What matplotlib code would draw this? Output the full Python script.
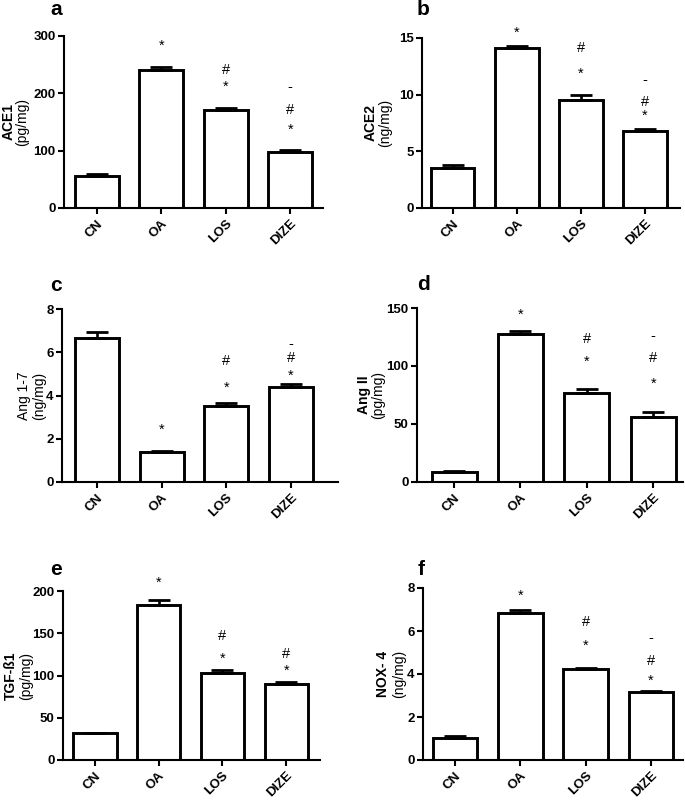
import matplotlib
matplotlib.use("Agg")
import matplotlib.pyplot as plt
import numpy as np

plt.rcParams['font.family'] = ['Liberation Sans', 'DejaVu Sans']

categories = ["CN", "OA", "LOS", "DIZE"]

# panel data: means and upper SEM
ace1_mean = [56, 241, 171, 97]
ace1_sem = [4, 5, 3, 4]
ace2_mean = [3.57, 14.15, 9.5, 6.77]
ace2_sem = [0.22, 0.15, 0.5, 0.2]
ang17_mean = [6.65, 1.38, 3.51, 4.38]
ang17_sem = [0.28, 0.04, 0.16, 0.15]
ang2_mean = [8.6, 127.9, 77, 56]
ang2_sem = [0.5, 2.5, 3.3, 4.3]
tgf_mean = [31.5, 184, 103.2, 89.4]
tgf_sem = [1.0, 5.0, 3.0, 2.5]
nox_mean = [1.04, 6.84, 4.23, 3.14]
nox_sem = [0.09, 0.12, 0.07, 0.08]

# significance marks: (category index, symbol, y position in data units)
ace1_marks = [(1, "*", 283), (2, "#", 241), (2, "*", 211), (3, "-", 211), (3, "#", 171), (3, "*", 136)]
ace2_marks = [(1, "*", 15.5), (2, "#", 14.15), (2, "*", 11.8), (3, "-", 11.3), (3, "#", 9.37), (3, "*", 8.1)]
ang17_marks = [(1, "*", 2.4), (2, "#", 5.6), (2, "*", 4.35), (3, "-", 6.4), (3, "#", 5.75), (3, "*", 4.9)]
ang2_marks = [(1, "*", 144), (2, "#", 123.6), (2, "*", 103.4), (3, "-", 126), (3, "#", 107), (3, "*", 84.8)]
tgf_marks = [(1, "*", 209.5), (2, "#", 146.5), (2, "*", 119.3), (3, "#", 126), (3, "*", 105.5)]
nox_marks = [(1, "*", 7.62), (2, "#", 6.42), (2, "*", 5.3), (3, "-", 5.68), (3, "#", 4.61), (3, "*", 3.67)]

W, H = 685, 801
fig = plt.figure(figsize=(W / 100, H / 100), dpi=100)

panels = [
    # letter, mean, sem, marks, ymax, yticks, axes px (l,t,r,b), xlim, label lines, label x px, bold first, letter pos
    ("a", ace1_mean, ace1_sem, ace1_marks, 300, [0, 100, 200, 300], (64, 36, 323, 208), (-0.51, 3.51),
     ("ACE1", "(pg/mg)"), (9, 22), True, (50, 15)),
    ("b", ace2_mean, ace2_sem, ace2_marks, 15, [0, 5, 10, 15], (422, 38, 680, 208), (-0.48, 3.55),
     ("ACE2", "(ng/mg)"), (371, 385), True, (417, 15)),
    ("c", ang17_mean, ang17_sem, ang17_marks, 8, [0, 2, 4, 6, 8], (62, 309, 338, 482), (-0.54, 3.73),
     ("Ang 1-7", "(ng/mg)"), (24, 39), False, (50, 291)),
    ("d", ang2_mean, ang2_sem, ang2_marks, 150, [0, 50, 100, 150], (417, 308, 683, 482), (-0.56, 3.45),
     ("Ang II", "(pg/mg)"), (364, 378), True, (417, 290)),
    ("e", tgf_mean, tgf_sem, tgf_marks, 200, [0, 50, 100, 150, 200], (63, 591, 320, 760), (-0.5, 3.53),
     ("TGF-ß1", "(pg/mg)"), (11, 26), True, (50, 575)),
    ("f", nox_mean, nox_sem, nox_marks, 8, [0, 2, 4, 6, 8], (423, 588, 683, 760), (-0.49, 3.49),
     ("NOX- 4", "(ng/mg)"), (383, 399), True, (418, 575)),
]

for (letter, mean, sem, marks, ymax, yticks, box, xlim, lab, labx, bold1, letpos) in panels:
    l, t, r, b = box
    ax = fig.add_axes([l / W, 1 - b / H, (r - l) / W, (b - t) / H])
    x = np.arange(len(categories))
    ax.bar(x, mean, width=0.68, color="white", edgecolor="black", linewidth=2.1, zorder=2)
    ax.errorbar(x, mean, yerr=[np.zeros(len(mean)), sem], fmt="none", ecolor="black",
                elinewidth=1.9, capsize=8, capthick=2.0, zorder=3)
    ax.set_xlim(*xlim)
    ax.set_ylim(0, ymax)
    ax.set_yticks(yticks)
    ax.set_yticklabels([str(v) for v in yticks], fontsize=9.5, fontweight="bold")
    ax.set_xticks(x)
    ax.set_xticklabels(categories, fontsize=9.5, fontweight="bold", rotation=45,
                       ha="right", va="top", rotation_mode="anchor")
    for s in ["top", "right"]:
        ax.spines[s].set_visible(False)
    for s in ["left", "bottom"]:
        ax.spines[s].set_linewidth(1.5)
    ax.tick_params(axis="both", width=1.5, length=4, direction="out", pad=2)
    ax.tick_params(axis="x", pad=3)
    for (i, sym, yv) in marks:
        ax.text(i, yv, sym, ha="center", va="center", fontsize=10.5, clip_on=False)
    yc = 1 - (t + b) / 2 / H
    fig.text(labx[0] / W, yc, lab[0], rotation=90, ha="center", va="center",
             fontsize=10, fontweight="bold" if bold1 else "normal")
    fig.text(labx[1] / W, yc, lab[1], rotation=90, ha="center", va="center", fontsize=10)
    fig.text(letpos[0] / W, 1 - letpos[1] / H, letter, fontsize=15, fontweight="bold",
             ha="left", va="baseline")

fig.savefig("out.png", dpi=100)
